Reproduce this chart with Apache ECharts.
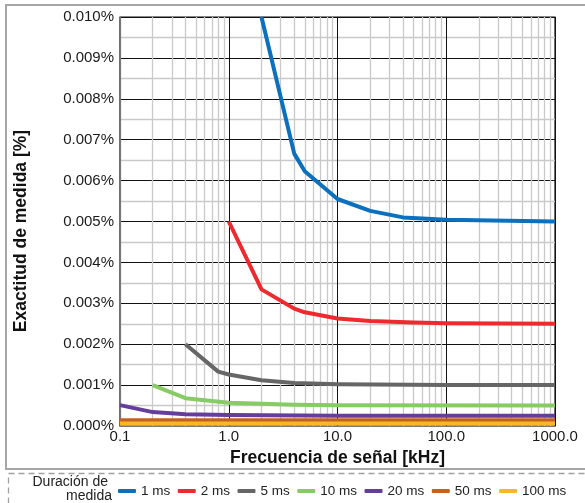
<!DOCTYPE html>
<html>
<head>
<meta charset="utf-8">
<script src="https://cdn.jsdelivr.net/npm/echarts@6/dist/echarts.min.js"></script>
<style>
html,body{margin:0;padding:0;background:#fff;}
#c{width:585px;height:503px;}
</style>
</head>
<body>
<div id="c"></div>
<script>
// ---- Data (frequency in kHz, accuracy in %) ----
const seriesNames = ['1 ms', '2 ms', '5 ms', '10 ms', '20 ms', '50 ms', '100 ms'];
const seriesColors = ['#0b70bd', '#ee2a2e', '#666666', '#86cc62', '#653e9c', '#c6601f', '#fbb625'];

const freq1ms = [2, 4, 5, 10, 20, 40, 100, 1000];
const acc1ms  = [0.0100, 0.00666, 0.00623, 0.00555, 0.00526, 0.00510, 0.00504, 0.00500];

const freq2ms = [1, 2, 4, 5, 10, 20, 50, 100, 1000];
const acc2ms  = [0.0050, 0.00334, 0.00287, 0.00278, 0.00263, 0.00257, 0.00253, 0.00251, 0.00250];

const freq5ms = [0.4, 0.8, 1, 2, 4, 10, 100, 1000];
const acc5ms  = [0.0020, 0.00133, 0.00126, 0.00112, 0.00105, 0.00102, 0.00100, 0.00100];

const freq10ms = [0.2, 0.4, 1, 4, 10, 1000];
const acc10ms  = [0.0010, 0.00068, 0.00057, 0.00052, 0.00051, 0.00050];

const freq20ms = [0.1, 0.2, 0.4, 1, 10, 1000];
const acc20ms  = [0.00051, 0.00034, 0.00029, 0.00027, 0.00025, 0.00025];

const freq50ms = [0.1, 1000];
const acc50ms  = [0.00014, 0.00014];

const freq100ms = [0.1, 1000];
const acc100ms  = [0.00006, 0.00006];

// minor vertical grid values (log axis)
const minorFreqs = [0.2,0.3,0.4,0.5,0.6,0.7,0.8,0.9, 2,3,4,5,6,7,8,9, 20,30,40,50,60,70,80,90, 200,300,400,500,600,700,800,900];

const legendTitle1 = 'Duración de';
const legendTitle2 = 'medida';
const xTitle = 'Frecuencia de señal [kHz]';
const yTitle = 'Exactitud de medida [%]';

// ---- build ----
const allFreq = [freq1ms, freq2ms, freq5ms, freq10ms, freq20ms, freq50ms, freq100ms];
const allAcc  = [acc1ms, acc2ms, acc5ms, acc10ms, acc20ms, acc50ms, acc100ms];
const FONT = '"Liberation Sans", Arial, sans-serif';

const series = [{
  name: '__minor',
  type: 'line',
  data: [],
  z: 1,
  silent: true,
  markLine: {
    z: 1,
    silent: true,
    symbol: 'none',
    animation: false,
    label: {show: false},
    lineStyle: {color: '#c9c9c9', type: 'solid', width: 1.3},
    data: minorFreqs.map(v => ({xAxis: v}))
  }
}];
seriesNames.forEach((n, i) => {
  series.push({
    name: n,
    type: 'line',
    z: 10,
    symbol: 'none',
    smooth: false,
    lineStyle: {width: 4, color: seriesColors[i], cap: 'butt', join: 'round'},
    itemStyle: {color: seriesColors[i]},
    data: allFreq[i].map((f, k) => [f, allAcc[i][k]]),
    animation: false
  });
});

const chart = echarts.init(document.getElementById('c'), null, {renderer: 'canvas'});
chart.setOption({
  animation: false,
  backgroundColor: '#fff',
  textStyle: {fontFamily: FONT},
  grid: {
    left: 120, right: 30, top: 17, bottom: 77,
    show: true, borderColor: '#111', borderWidth: 1.2,
    containLabel: false, outerBoundsMode: 'none'
  },
  xAxis: {
    type: 'log', logBase: 10, min: 0.1, max: 1000, interval: 1,
    name: xTitle, nameLocation: 'middle', nameGap: 18,
    nameTextStyle: {fontSize: 17.5, fontWeight: 'bold', color: '#111', fontFamily: FONT},
    axisLine: {show: true, lineStyle: {color: '#777', width: 1.2}},
    axisTick: {show: false},
    axisLabel: {fontSize: 15, color: '#1a1a1a', margin: 3, fontFamily: FONT,
      formatter: v => Number(v).toFixed(1)},
    splitLine: {show: true, lineStyle: {color: '#111', width: 1}},
    minorTick: {show: false},
    minorSplitLine: {show: false}
  },
  yAxis: {
    type: 'value', min: 0, max: 0.01, interval: 0.001,
    axisLine: {show: true, lineStyle: {color: '#777', width: 1.2}},
    axisTick: {show: false},
    axisLabel: {fontSize: 15, color: '#1a1a1a', margin: 6, fontFamily: FONT,
      formatter: v => Number(v).toFixed(3) + '%'},
    splitLine: {show: true, lineStyle: {color: '#111', width: 1}},
    minorTick: {show: false, splitNumber: 2},
    minorSplitLine: {show: true, lineStyle: {color: '#c9c9c9', width: 1.3}}
  },
  legend: {
    data: seriesNames,
    left: 118, top: 484,
    padding: 0,
    itemGap: 7.5,
    itemWidth: 18, itemHeight: 4,
    icon: 'roundRect',
    textStyle: {fontSize: 13.5, color: '#222', fontFamily: FONT},
    selectedMode: false
  },
  graphic: [
    {type: 'rect', silent: true, z: -1,
      shape: {x: 6, y: 5, width: 600, height: 464},
      style: {fill: null, stroke: '#a6a6a6', lineWidth: 2}},
    {type: 'rect', silent: true, z: -1,
      shape: {x: 8.5, y: 473.5, width: 600, height: 100},
      style: {fill: null, stroke: '#a0a0a0', lineWidth: 1.3, lineDash: [6, 4]}},
    {type: 'text', silent: true, x: 21, y: 231, rotation: Math.PI / 2,
      style: {text: yTitle, fontSize: 17.5, fontWeight: 'bold', fill: '#111', textAlign: 'center', textVerticalAlign: 'middle', fontFamily: FONT}},
    {type: 'text', silent: true, x: 108, y: 482,
      style: {text: legendTitle1, fontSize: 14, fill: '#222', textAlign: 'right', textVerticalAlign: 'middle', fontFamily: FONT}},
    {type: 'text', silent: true, x: 112, y: 496.5,
      style: {text: legendTitle2, fontSize: 14, fill: '#222', textAlign: 'right', textVerticalAlign: 'middle', fontFamily: FONT}}
  ],
  series: series
});
</script>
</body>
</html>
